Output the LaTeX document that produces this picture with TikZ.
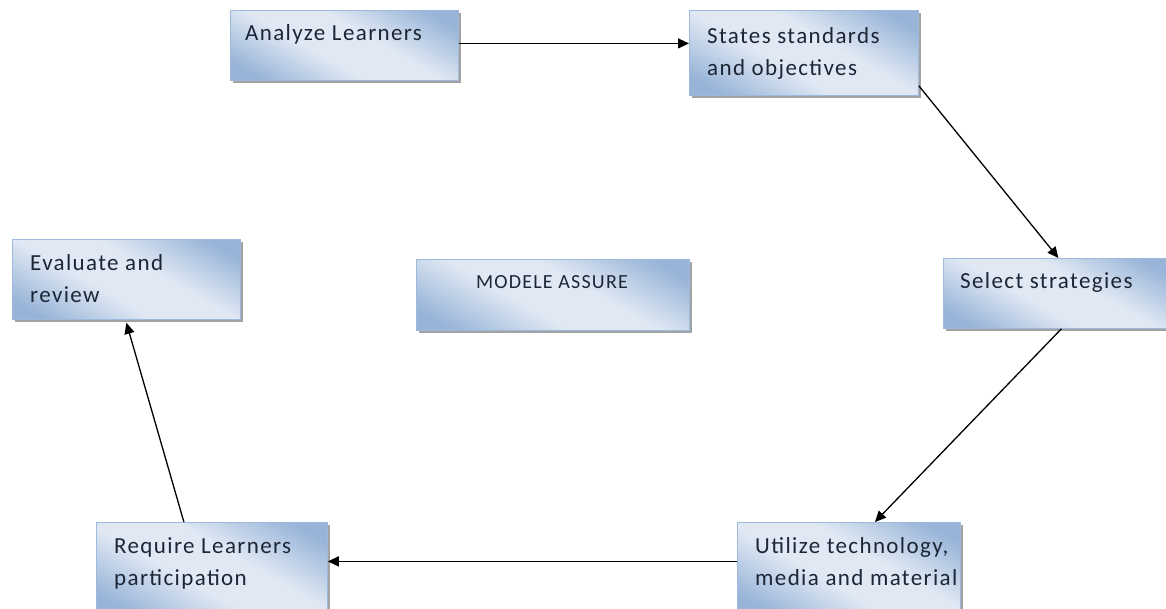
\documentclass[tikz,border=0pt]{standalone}
\usepackage{fontspec}
\setmainfont{Carlito}
\newfontfamily\boxfont[LetterSpace=6]{Carlito}
\usetikzlibrary{arrows.meta,shadows}

\definecolor{boxedge}{HTML}{9DB9DC}
\definecolor{boxdark}{HTML}{98B4D8}
\definecolor{boxlight}{HTML}{DFE8F3}
\definecolor{textcol}{HTML}{1C2636}

% diagonal band: darker corners, light middle
\pgfdeclareverticalshading{boxshade}{100bp}{%
  color(0bp)=(boxdark); color(22bp)=(boxdark); color(42bp)=(boxlight);
  color(58bp)=(boxlight); color(78bp)=(boxdark); color(100bp)=(boxdark)}

\tikzset{
  box/.style={rectangle, draw=boxedge, line width=0.8pt,
    shading=boxshade, shading angle=-30, anchor=north west, inner sep=0pt,
    drop shadow={shadow xshift=3pt, shadow yshift=-3pt, fill=black!45, opacity=0.8}},
  lbl/.style={anchor=base west, inner sep=0pt,
    font=\boxfont\fontsize{23}{32}\selectfont, text=textcol, align=left},
  arr/.style={-{Triangle[length=11pt,width=10pt]}, line width=1.3pt, black},
}

\begin{document}
\begin{tikzpicture}[x=1pt,y=-1pt]
  \useasboundingbox (0,0) rectangle (1166,608);
  \clip (0,0) rectangle (1166,608);

  % boxes
  \node[box, minimum width=228pt, minimum height=70pt] (analyze) at (230,10) {};
  \node[box, minimum width=229pt, minimum height=85pt] (states) at (689,10) {};
  \node[box, minimum width=228pt, minimum height=80pt] (evaluate) at (12,239) {};
  \node[box, minimum width=273pt, minimum height=71pt] (modele) at (416,259) {};
  \node[box, minimum width=230pt, minimum height=70pt] (select) at (943,258) {};
  \node[box, minimum width=223pt, minimum height=92pt] (utilize) at (737,522) {};
  \node[box, minimum width=231pt, minimum height=92pt] (require) at (96,522) {};

  % labels (base anchor sits on the last line)
  \node[lbl] at (245,40) {Analyze Learners};
  \node[lbl] at (707,75) {States standards\\and objectives};
  \node[lbl] at (30,302) {Evaluate and\\review};
  \node[anchor=base, inner sep=0pt, font=\boxfont\fontsize{20}{28}\selectfont, text=textcol]
    at (552,288) {MODELE ASSURE};
  \node[lbl] at (960,288) {Select strategies};
  \node[lbl] at (755,585) {Utilize technology,\\media and material};
  \node[lbl] at (114,585) {Require Learners\\participation};

  % cycle connectors
  \draw[arr] ([yshift=2pt]analyze.east) -- ([yshift=2pt]analyze.east -| states.west);
  \draw[arr] ([yshift=10pt]states.south east) -- (select.north);
  \draw[arr] ([xshift=3pt]select.south) -- ([xshift=26pt]utilize.north);
  \draw[arr] ([yshift=7pt]utilize.west) -- ([yshift=7pt]require.east);
  \draw[arr] ([xshift=-28pt]require.north) -- ([yshift=-3pt]evaluate.south);
\end{tikzpicture}
\end{document}
